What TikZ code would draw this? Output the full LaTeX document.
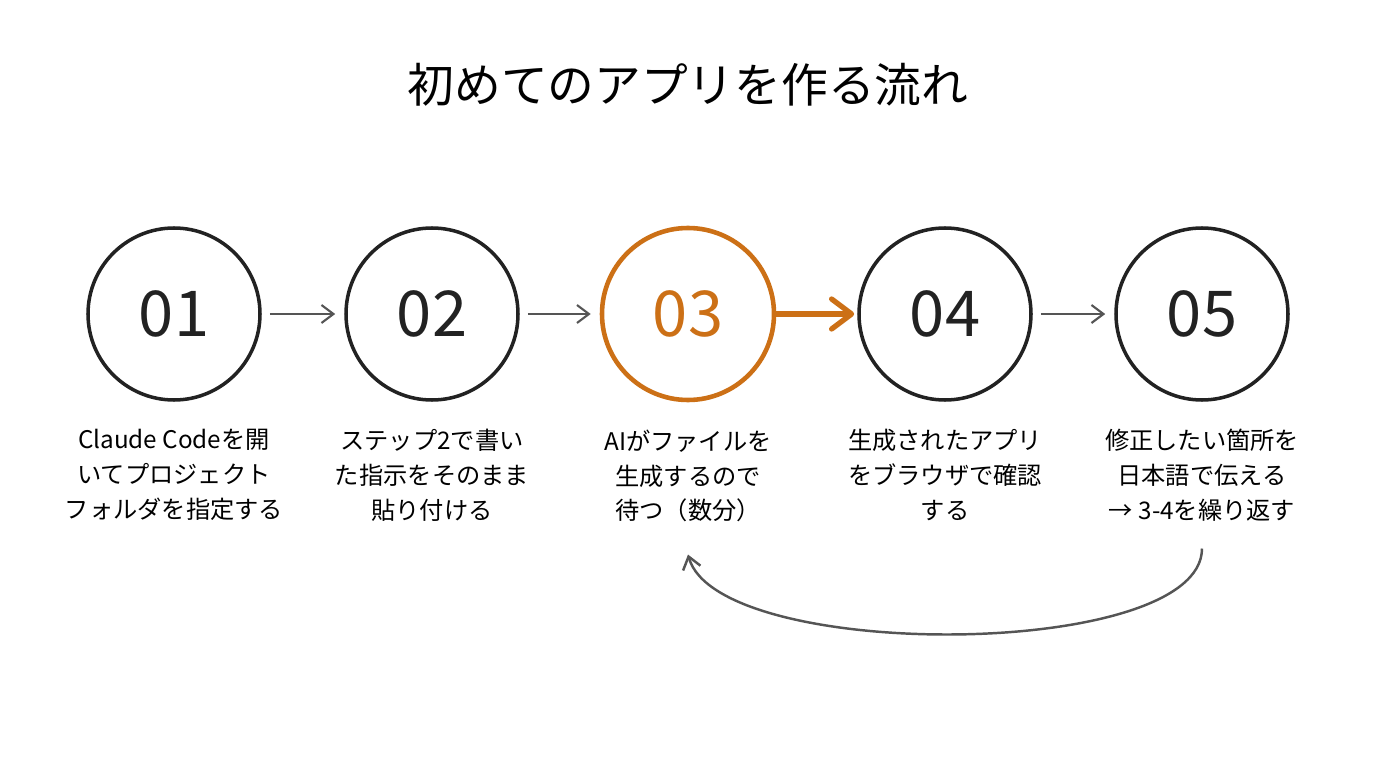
\documentclass[tikz,border=0pt]{standalone}
\usepackage{fontspec}
\setmainfont{Noto Sans CJK JP}
\usetikzlibrary{positioning, arrows.meta}
\definecolor{stepink}{RGB}{34, 34, 34}
\definecolor{steporange}{RGB}{204, 112, 22}
\definecolor{flowgray}{RGB}{85, 85, 85}

\begin{document}
\begin{tikzpicture}[
        stepcircle/.style={circle, draw=stepink, line width=1pt, minimum size=17.2mm, inner sep=0pt,
            font=\fontsize{18}{18}\selectfont, text=stepink},
        current/.style={draw=steporange, text=steporange, line width=1.3pt},
        desc/.style={font=\fontsize{6.9}{9.9}\selectfont, align=center, below=0.15cm of #1},
        flow/.style={draw=flowgray, line width=0.6pt, -{Straight Barb[length=1.2mm, width=1.8mm]}},
        hot/.style={draw=steporange, line width=1.5pt, -{Straight Barb[length=2mm, width=3mm, round]}}
    ]

    % canvas 13.76 x 7.68 (1 px = 0.1 mm), origin top left
    \useasboundingbox (0, 0) rectangle (13.76, -7.68);

    \node[font=\fontsize{13.3}{16}\selectfont] (title) at (6.88, -0.85) {初めてのアプリを作る流れ};

    % Step circles
    \node[stepcircle] (s1) at (1.74, -3.14) {01};
    \node[stepcircle] (s2) at (4.32, -3.14) {02};
    \node[stepcircle, current] (s3) at (6.88, -3.14) {03};
    \node[stepcircle] (s4) at (9.45, -3.14) {04};
    \node[stepcircle] (s5) at (12.02, -3.14) {05};

    % Descriptions
    \node[desc=s1] (t1) {Claude Codeを開\\いてプロジェクト\\フォルダを指定する};
    \node[desc=s2] (t2) {ステップ2で書い\\た指示をそのまま\\貼り付ける};
    \node[desc=s3] (t3) {AIがファイルを\\生成するので\\待つ（数分）};
    \node[desc=s4] (t4) {生成されたアプリ\\をブラウザで確認\\する};
    \node[desc=s5] (t5) {修正したい箇所を\\日本語で伝える\\→ 3-4を繰り返す};

    % Arrows between steps
    \draw[flow, shorten <=0.8mm, shorten >=0.9mm] (s1) -- (s2);
    \draw[flow, shorten <=0.8mm, shorten >=0.9mm] (s2) -- (s3);
    \draw[hot, shorten >=0.3mm] (s3) -- (s4);
    \draw[flow, shorten <=0.8mm, shorten >=0.9mm] (s4) -- (s5);

    % Loop back from 05 to 03
    \draw[flow, line width=0.7pt] ([yshift=-1.5mm]t5.south) .. controls +(0, -1.12) and +(0.3, -1.08) .. ([yshift=-2mm]t3.south);

\end{tikzpicture}
\end{document}
